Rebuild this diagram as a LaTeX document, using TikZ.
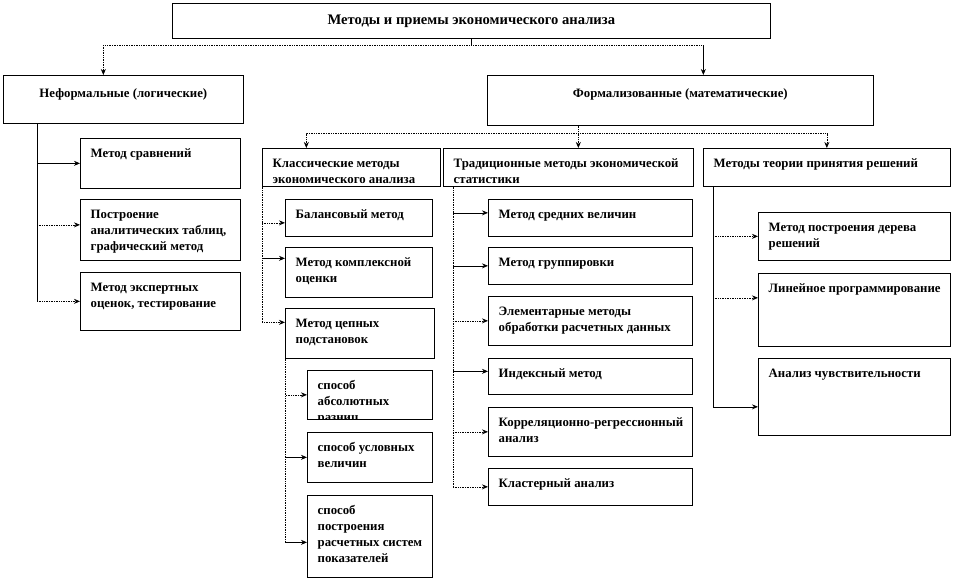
\documentclass[tikz,border=0pt]{standalone}
\usepackage{fontspec}
\setmainfont{Liberation Serif}
\usetikzlibrary{arrows.meta, positioning}

\begin{document}
\begin{tikzpicture}[
    x=1pt, y=-1pt,
    cell/.style={
        draw, line width=0.7pt, rectangle, anchor=north west, inner sep=0pt,
        path picture={\node[celltext] at ([shift={(10pt,-10pt)}]path picture bounding box.north west) {#1};}
    },
    head/.style={
        draw, line width=0.7pt, rectangle, anchor=north west, inner sep=0pt,
        path picture={\node[headtext] at ([yshift=-13pt]path picture bounding box.north) {#1};}
    },
    celltext/.style={anchor=north west, inner sep=0pt, align=left,
        minimum width=0pt, minimum height=0pt,
        font=\fontsize{12.8}{16}\selectfont\bfseries},
    headtext/.style={anchor=north, inner sep=0pt, align=center,
        minimum width=0pt, minimum height=0pt,
        font=\fontsize{12.8}{16}\selectfont\bfseries},
    arr/.style={-{Stealth[length=6pt,width=5pt]}, line width=0.7pt},
    line/.style={line width=0.7pt},
    dot/.style={densely dotted},
]
\useasboundingbox (0,0) rectangle (954,582);

% top level
\node[draw, line width=0.7pt, anchor=north west, minimum width=598pt, minimum height=35pt,
    font=\fontsize{14.6}{18}\selectfont\bfseries] (title) at (172,3) {Методы и приемы экономического анализа};
\node[head={Неформальные (логические)}, minimum width=240pt, minimum height=48pt] (nonformal) at (3,75) {};
\node[head={Формализованные (математические)}, minimum width=386pt, minimum height=50pt] (formal) at (487,75) {};

% informal methods
\node[cell={Метод сравнений}, minimum width=160pt, minimum height=50pt] (sravn) at (80,138) {};
\node[cell={Построение\\аналитических таблиц,\\графический метод}, minimum width=160pt, minimum height=61pt] (tabl) at (80,199) {};
\node[cell={Метод экспертных\\оценок, тестирование}, minimum width=160pt, minimum height=58pt] (expert) at (80,272) {};

% formal groups
\node[cell={Классические методы\\экономического анализа}, minimum width=178pt, minimum height=38pt] (classic) at (262,148) {};
\node[cell={Традиционные методы экономической\\статистики}, minimum width=250pt, minimum height=38pt] (trad) at (443,148) {};
\node[cell={Методы теории принятия решений}, minimum width=247pt, minimum height=38pt] (decis) at (703,148) {};

% classic
\node[cell={Балансовый метод}, minimum width=147pt, minimum height=37pt] (balans) at (285,199) {};
\node[cell={Метод комплексной\\оценки}, minimum width=147pt, minimum height=50pt] (kompl) at (285,247) {};
\node[cell={Метод цепных\\подстановок}, minimum width=149pt, minimum height=50pt] (cepn) at (285,308) {};
\node[cell={способ\\абсолютных\\разниц}, minimum width=125pt, minimum height=49pt] (absol) at (307,370) {};
\node[cell={способ условных\\величин}, minimum width=125pt, minimum height=50pt] (uslov) at (307,432) {};
\node[cell={способ\\построения\\расчетных систем\\показателей}, minimum width=125pt, minimum height=82pt] (postr) at (307,495) {};

% statistics
\node[cell={Метод средних величин}, minimum width=204pt, minimum height=37pt] (sredn) at (488,199) {};
\node[cell={Метод группировки}, minimum width=204pt, minimum height=37pt] (grupp) at (488,247) {};
\node[cell={Элементарные методы\\обработки расчетных данных}, minimum width=204pt, minimum height=49pt] (elem) at (488,296) {};
\node[cell={Индексный метод}, minimum width=204pt, minimum height=36pt] (index) at (488,358) {};
\node[cell={Корреляционно-регрессионный\\анализ}, minimum width=204pt, minimum height=49pt] (korr) at (488,407) {};
\node[cell={Кластерный анализ}, minimum width=204pt, minimum height=37pt] (klast) at (488,468) {};

% decisions
\node[cell={Метод построения дерева\\решений}, minimum width=192pt, minimum height=48pt] (derevo) at (758,212) {};
\node[cell={Линейное программирование}, minimum width=192pt, minimum height=73pt] (linprog) at (758,273) {};
\node[cell={Анализ чувствительности}, minimum width=192pt, minimum height=77pt] (chuvst) at (758,358) {};

% connectors
\draw[line] (title.south) -- ++(0,7) coordinate (tjoin);
\draw[arr, dot] (tjoin) -| ([xshift=-20pt]nonformal.north);
\coordinate (fin) at ([xshift=23pt]formal.north);
\draw[line, dot] (tjoin) -- (tjoin -| fin);
\draw[arr] (tjoin -| fin) -- (fin);

\draw[line, dot] ([xshift=-102pt]formal.south) -- ++(0,8) coordinate (fjoin);
\draw[arr, dot] (fjoin) -| ([xshift=-45pt]classic.north);
\draw[arr, dot] (fjoin) -| ([xshift=10pt]trad.north);
\draw[arr, dot] (fjoin) -| (decis.north);

\coordinate (nsp) at ([xshift=34pt]nonformal.south west);
\draw[line] (nsp) -- (nsp |- expert.west);
\draw[arr] (nsp |- sravn.west) -- (sravn.west);
\draw[arr, dot] (nsp |- tabl.west) ++(0,-5) -- ([yshift=5pt]tabl.west);
\draw[arr, dot] (nsp |- expert.west) -- (expert.west);

\coordinate (cepnin) at ([yshift=11pt]cepn.west);
\draw[arr, dot] (classic.south west) |- (cepnin);
\draw[arr, dot] (classic.south west |- balans.west) ++(0,5) -- ([yshift=-5pt]balans.west);
\draw[arr] (classic.south west |- kompl.west) ++(0,-14) -- ([yshift=14pt]kompl.west);

\coordinate (postrin) at ([yshift=-6pt]postr.west);
\draw[line, dot] (cepn.south west) -- (cepn.south west |- postrin);
\draw[arr, dot] ([xshift=1pt]cepn.south west |- absol.west) -- (absol.west);
\draw[arr] (cepn.south west |- uslov.west) -- (uslov.west);
\draw[arr] (cepn.south west |- postrin) -- (postrin);

\coordinate (tsp) at ([xshift=10pt]trad.south west);
\draw[line, dot] (tsp) -- (tsp |- klast.west);
\draw[arr] (tsp |- sredn.west) ++(0,-5) -- ([yshift=5pt]sredn.west);
\draw[arr] (tsp |- grupp.west) -- (grupp.west);
\draw[arr, dot] (tsp |- elem.west) -- (elem.west);
\draw[arr] (tsp |- index.west) ++(0,-5) -- ([yshift=5pt]index.west);
\draw[arr, dot] (tsp |- korr.west) -- (korr.west);
\draw[arr, dot] (tsp |- klast.west) -- (klast.west);

\coordinate (dsp) at ([xshift=10pt]decis.south west);
\coordinate (linin) at ([yshift=12pt]linprog.west);
\coordinate (chuvin) at ([yshift=-10pt]chuvst.west);
\draw[line] (dsp) -- (dsp |- chuvin);
\draw[arr, dot] (dsp |- derevo.west) -- (derevo.west);
\draw[arr, dot] (dsp |- linin) -- (linin);
\draw[arr] (dsp |- chuvin) -- (chuvin);
\end{tikzpicture}
\end{document}
